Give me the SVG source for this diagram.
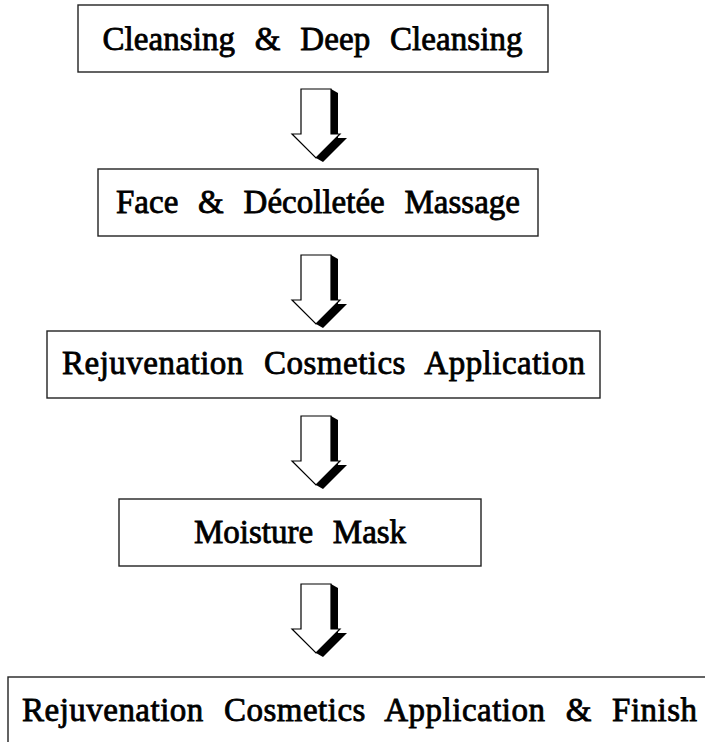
<svg xmlns="http://www.w3.org/2000/svg" width="705" height="742" viewBox="0 0 705 742">
<style>
.box{fill:#fff;stroke:#222;stroke-width:1.4}
.lbl{font-family:"Liberation Serif","Times New Roman",serif;font-size:33px;fill:#000;stroke:#000;stroke-width:0.8;text-anchor:middle;word-spacing:11.5px}
.ar{fill:#fff;stroke:#000;stroke-width:1.2;stroke-linejoin:miter}
.sh{fill:#000}
</style>
<defs>
<g id="arrow">
<path class="sh" d="M331,0 L338,4 L338,49 L347,49 L323,73 L316,69 L340,45 L331,45 Z"/>
<path class="ar" d="M301,0 L331,0 L331,45 L340,45 L316,69 L292,45 L301,45 Z"/>
</g>
</defs>
<rect width="705" height="742" fill="#fff"/>
<g id="connectors">
<use href="#arrow" transform="translate(0,89)"/>
<use href="#arrow" transform="translate(0,255)"/>
<use href="#arrow" transform="translate(0,416)"/>
<use href="#arrow" transform="translate(0,584)"/>
</g>
<g id="n1"><rect class="box" x="78" y="5" width="470" height="67"/><text class="lbl" x="312.5" y="50" textLength="420" lengthAdjust="spacing">Cleansing &amp; Deep Cleansing</text></g>
<g id="n2"><rect class="box" x="98" y="169" width="440" height="67"/><text class="lbl" x="318" y="213" textLength="404" lengthAdjust="spacing">Face &amp; Décolletée Massage</text></g>
<g id="n3"><rect class="box" x="47" y="331" width="553" height="67"/><text class="lbl" x="323.5" y="374" textLength="523" lengthAdjust="spacing">Rejuvenation Cosmetics Application</text></g>
<g id="n4"><rect class="box" x="119" y="499" width="362" height="67"/><text class="lbl" x="300" y="543">Moisture Mask</text></g>
<g id="n5"><rect class="box" x="8" y="677" width="720" height="80"/><text class="lbl" x="359.5" y="721" textLength="675" lengthAdjust="spacing">Rejuvenation Cosmetics Application &amp; Finish</text></g>
</svg>
